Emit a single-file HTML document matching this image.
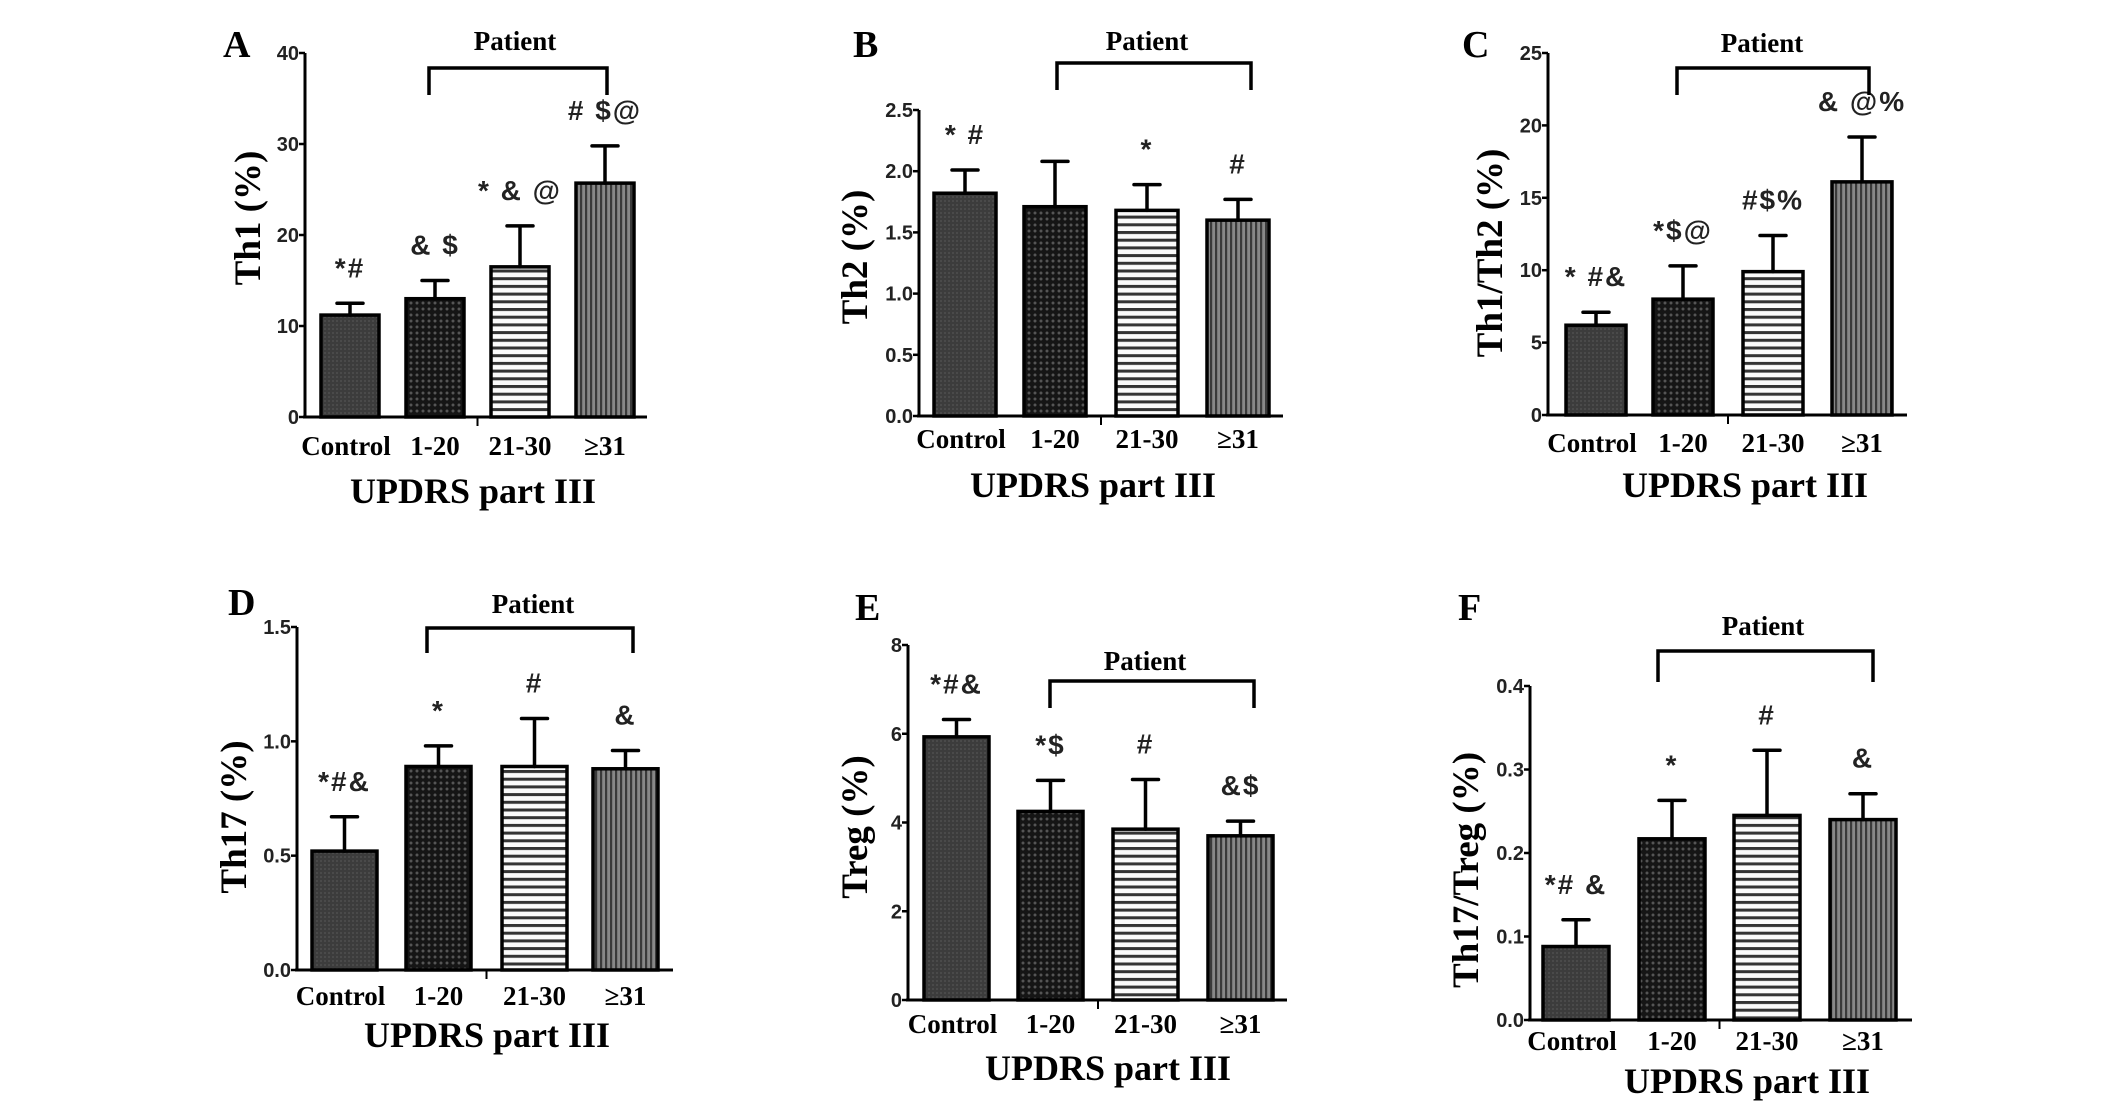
<!DOCTYPE html>
<html><head><meta charset="utf-8">
<style>
html,body{margin:0;padding:0;background:#fff;}
svg{display:block;}
.tick{font-family:"Liberation Sans",sans-serif;font-weight:bold;font-size:20px;fill:#222;}
.cat{font-family:"Liberation Serif",serif;font-weight:bold;font-size:27px;fill:#000;}
.xt{font-family:"Liberation Serif",serif;font-weight:bold;font-size:36px;fill:#000;}
.yt{font-family:"Liberation Serif",serif;font-weight:bold;font-size:37px;fill:#000;}
.pat{font-family:"Liberation Serif",serif;font-weight:bold;font-size:27px;fill:#000;}
.let{font-family:"Liberation Serif",serif;font-weight:bold;font-size:38px;fill:#000;}
.ann{font-family:"Liberation Sans",sans-serif;font-weight:bold;font-size:28px;fill:#222;letter-spacing:2px;}
</style></head>
<body>
<svg id="fig" width="2126" height="1107" viewBox="0 0 2126 1107" xmlns="http://www.w3.org/2000/svg">
<defs>
<pattern id="pCtrl" width="4" height="4" patternUnits="userSpaceOnUse"><rect width="4" height="4" fill="#3c3c3c"/><rect width="2" height="2" fill="#4a4a4a"/></pattern>
<pattern id="pLow" width="6" height="6" patternUnits="userSpaceOnUse"><rect width="6" height="6" fill="#151515"/><circle cx="3" cy="3" r="1.5" fill="#555"/></pattern>
<pattern id="pMid" width="8" height="7.7" patternUnits="userSpaceOnUse"><rect width="8" height="7.7" fill="#fafafa"/><rect y="0" width="8" height="3" fill="#333"/></pattern>
<pattern id="pHigh" width="5" height="5" patternUnits="userSpaceOnUse"><rect width="5" height="5" fill="#888"/><rect width="2.2" height="5" fill="#3a3a3a"/></pattern>
</defs>
</svg>
<script>
// categories
const categories = ["Control", "1-20", "21-30", "\u226531"];
// Panel A - Th1
const valsA = [11.2, 13.0, 16.5, 25.7];
const errA  = [12.5, 15.0, 21.0, 29.8];
const annA  = ["*#", "& $", "* & @", "# $@"];
const ticksA = ["0","10","20","30","40"];
// Panel B - Th2
const valsB = [1.82, 1.71, 1.68, 1.60];
const errB  = [2.01, 2.08, 1.89, 1.77];
const annB  = ["* #", "", "*", "#"];
const ticksB = ["0.0","0.5","1.0","1.5","2.0","2.5"];
// Panel C - Th1/Th2
const valsC = [6.2, 8.0, 9.9, 16.1];
const errC  = [7.1, 10.3, 12.4, 19.2];
const annC  = ["* #&", "*$@", "#$%", "& @%"];
const ticksC = ["0","5","10","15","20","25"];
// Panel D - Th17
const valsD = [0.52, 0.89, 0.89, 0.88];
const errD  = [0.67, 0.98, 1.10, 0.96];
const annD  = ["*#&", "*", "#", "&"];
const ticksD = ["0.0","0.5","1.0","1.5"];
// Panel E - Treg
const valsE = [5.93, 4.25, 3.85, 3.70];
const errE  = [6.32, 4.95, 4.97, 4.03];
const annE  = ["*#&", "*$", "#", "&$"];
const ticksE = ["0","2","4","6","8"];
// Panel F - Th17/Treg
const valsF = [0.088, 0.217, 0.245, 0.240];
const errF  = [0.120, 0.263, 0.323, 0.271];
const annF  = ["*# &", "*", "#", "&"];
const ticksF = ["0.0","0.1","0.2","0.3","0.4"];

const NS = "http://www.w3.org/2000/svg";
const svg = document.getElementById('fig');
const fills = ["url(#pCtrl)","url(#pLow)","url(#pMid)","url(#pHigh)"];

function mk(tag, attrs, parent, text){
  const e = document.createElementNS(NS, tag);
  for (const k in attrs) e.setAttribute(k, attrs[k]);
  if (text !== undefined) e.textContent = text;
  (parent||svg).appendChild(e);
  return e;
}

const panels = [
 {id:"a", letter:"A", ylab:"Th1 (%)", vals:valsA, errs:errA, ann:annA, ticks:ticksA, max:40,
  ax:305, yTop:53, y0:417, bars:[321,406,491,576], bw:58, axEnd:647,
  br:[429,607,68,95], patX:515, patY:50, letX:223, letY:57, ylX:248, ylY:218, catY:455, xtX:473, xtY:503},
 {id:"b", letter:"B", ylab:"Th2 (%)", vals:valsB, errs:errB, ann:annB, ticks:ticksB, max:2.5,
  ax:919, yTop:110, y0:416, bars:[934,1024,1116,1207], bw:62, axEnd:1283,
  br:[1057,1251,63,90], patX:1147, patY:50, letX:853, letY:57, ylX:855, ylY:257, catY:448, xtX:1093, xtY:497},
 {id:"c", letter:"C", ylab:"Th1/Th2 (%)", vals:valsC, errs:errC, ann:annC, ticks:ticksC, max:25,
  ax:1548, yTop:53, y0:415, bars:[1566,1653,1743,1832], bw:60, axEnd:1907,
  br:[1677,1869,68,95], patX:1762, patY:52, letX:1462, letY:57, ylX:1490, ylY:253, catY:452, xtX:1745, xtY:497},
 {id:"d", letter:"D", ylab:"Th17 (%)", vals:valsD, errs:errD, ann:annD, ticks:ticksD, max:1.5,
  ax:297, yTop:627, y0:970, bars:[312,406,502,593], bw:65, axEnd:673,
  br:[427,633,628,653], patX:533, patY:613, letX:228, letY:615, ylX:234, ylY:817, catY:1005, xtX:487, xtY:1047},
 {id:"e", letter:"E", ylab:"Treg (%)", vals:valsE, errs:errE, ann:annE, ticks:ticksE, max:8,
  ax:908, yTop:645, y0:1000, bars:[924,1018,1113,1208], bw:65, axEnd:1287,
  br:[1050,1254,681,708], patX:1145, patY:670, letX:855, letY:620, ylX:855, ylY:827, catY:1033, xtX:1108, xtY:1080},
 {id:"f", letter:"F", ylab:"Th17/Treg (%)", vals:valsF, errs:errF, ann:annF, ticks:ticksF, max:0.4,
  ax:1530, yTop:686, y0:1020, bars:[1543,1639,1734,1830], bw:66, axEnd:1912,
  br:[1658,1873,651,682], patX:1763, patY:635, letX:1458, letY:620, ylX:1466, ylY:870, catY:1050, xtX:1747, xtY:1093}
];

panels.forEach(p => {
  const g = mk('g', {});
  
  
  const yScale = v => p.y0 - (v / p.max) * (p.y0 - p.yTop);

  const L = mk('text', {x:p.letX, y:p.letY, class:'let'}, g, p.letter);
  
  

  p.vals.forEach((v, i) => {
    const x = p.bars[i], top = yScale(v);
    const r = mk('rect', {x:x, y:top, width:p.bw, height:p.y0 - top, fill:fills[i], stroke:'#000', 'stroke-width':3.5}, g);
    
    
    const cx = x + p.bw/2, et = yScale(p.errs[i]);
    const eb = mk('path', {d:`M${cx} ${top}V${et}M${cx-13} ${et}H${cx+13}`, stroke:'#000', 'stroke-width':3.5, fill:'none', 'stroke-linecap':'round'}, g);
    
    
    if (p.ann[i]) {
      const a = mk('text', {x:cx, y:et - 26, 'text-anchor':'middle', class:'ann'}, g, p.ann[i]);
      
      
    }
    const c = mk('text', {x:cx + (i===0 ? -4 : 0), y:p.catY, 'text-anchor':'middle', class:'cat'}, g, categories[i]);
    
    
  });

  const ya = mk('path', {d:`M${p.ax} ${p.yTop}V${p.y0}`, stroke:'#000', 'stroke-width':3, fill:'none'}, g);
  
  
  const xa = mk('path', {d:`M${p.ax-2} ${p.y0}H${p.axEnd}`, stroke:'#000', 'stroke-width':3, fill:'none'}, g);
  
  
  const mid = (p.bars[1] + p.bw + p.bars[2]) / 2;
  mk('path', {d:`M${mid} ${p.y0}v9`, stroke:'#000', 'stroke-width':2}, g);

  p.ticks.forEach((t, k) => {
    const y = p.y0 - k / (p.ticks.length - 1) * (p.y0 - p.yTop);
    mk('path', {d:`M${p.ax-6} ${y}H${p.ax}`, stroke:'#000', 'stroke-width':2.5}, g);
    const tl = mk('text', {x:p.ax - 6, y:y + 7, 'text-anchor':'end', class:'tick'}, g, t);
    
    
  });

  const yl = mk('text', {x:0, y:0, 'text-anchor':'middle', class:'yt', transform:`translate(${p.ylX + 12} ${p.ylY}) rotate(-90)`}, g, p.ylab);
  
  
  const xt = mk('text', {x:p.xtX, y:p.xtY, 'text-anchor':'middle', class:'xt'}, g, 'UPDRS part III');
  
  

  const b = p.br;
  const brk = mk('path', {d:`M${b[0]} ${b[3]}V${b[2]}H${b[1]}V${b[3]}`, stroke:'#000', 'stroke-width':3.5, fill:'none'}, g);
  
  
  const pt = mk('text', {x:p.patX, y:p.patY, 'text-anchor':'middle', class:'pat'}, g, 'Patient');
  
  
});
</script>
</body></html>
